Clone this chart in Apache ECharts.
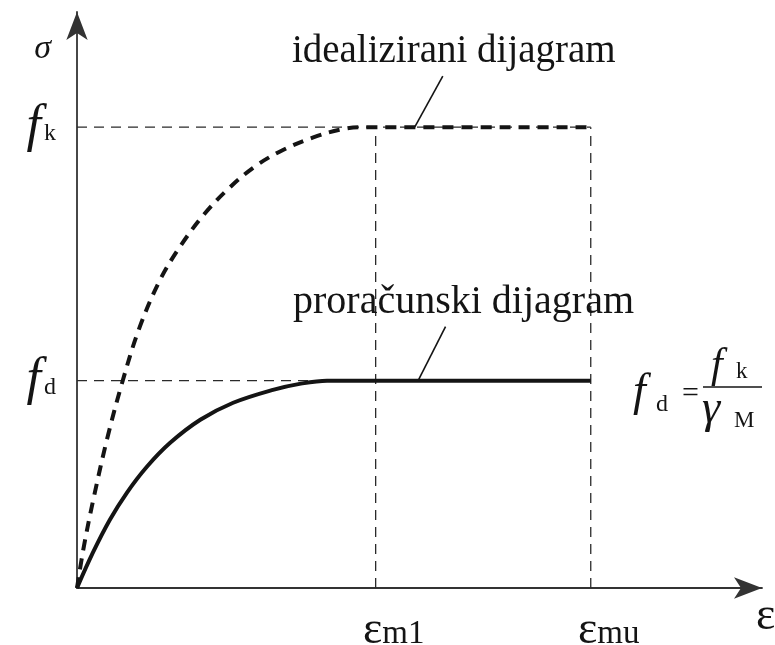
<!DOCTYPE html>
<html>
<head>
<meta charset="utf-8">
<script src="https://cdn.jsdelivr.net/npm/echarts@6/dist/echarts.min.js"></script>
<style>
html,body{margin:0;padding:0;background:#fff;}
#chart{width:775px;height:645px;}
</style>
</head>
<body>
<div id="chart"></div>
<script>
// ---- data (strain in arbitrary units, stress relative to f_k) ----
const strainIdeal  = [0, 0.1, 0.25, 0.45, 0.66, 0.9, 1.2, 1.5, 1.85, 2.2, 2.6, 3.0, 3.45, 3.85, 4.15, 7.5];
const stressIdeal  = [0, 0.09, 0.2, 0.33, 0.446, 0.56, 0.665, 0.74, 0.81, 0.865, 0.915, 0.95, 0.978, 0.995, 1.0, 1.0];
const strainDesign = [0, 0.23, 0.48, 0.73, 1.02, 1.36, 1.80, 2.28, 2.86, 3.25, 3.65, 7.5];
const stressDesign = [0, 0.076, 0.148, 0.207, 0.263, 0.315, 0.365, 0.402, 0.43, 0.443, 0.45, 0.45];
const fk = 1.0;
const fd = 0.45;
const epsM1 = 4.36;
const epsMu = 7.5;
const yTickLabels = {fk: '{f|f}{s|k}', fd: '{f|f}{s|d}'};
const xTickLabels = {m1: '{e|ε}{s|m1}', mu: '{e|ε}{s|mu}'};
const labelIdeal = 'idealizirani dijagram';
const labelDesign = 'proračunski dijagram';
const leaderIdeal  = [[5.34, 1.111], [4.93, 1.0]];
const leaderDesign = [[5.38, 0.567], [4.98, 0.45]];

const zip = (a, b) => a.map((v, i) => [v, b[i]]);
const SERIF = "'Liberation Serif', 'DejaVu Serif', serif";
const INK = '#141414';

const guide = (pts) => ({
  type: 'line', data: pts, symbol: 'none', silent: true, z: 1,
  lineStyle: {color: '#2a2a2a', width: 1.3, type: [10, 7]}
});

const leader = (pts, text, offset, size) => ({
  type: 'line', z: 4, symbol: 'circle', symbolSize: 1,
  itemStyle: {color: 'rgba(0,0,0,0)'},
  lineStyle: {color: INK, width: 1.6},
  data: pts.map((p, i) => i === 0
    ? {value: p, label: {show: true, formatter: text, position: 'top', distance: 4, offset: offset,
        fontFamily: SERIF, fontSize: size, color: INK}}
    : {value: p, label: {show: false}}),
  label: {show: false}
});

const chart = echarts.init(document.getElementById('chart'), null, {renderer: 'canvas'});
chart.setOption({
  backgroundColor: '#ffffff',
  animation: false,
  grid: {left: 77, right: 13, top: 12, bottom: 57, containLabel: false, outerBoundsMode: 'none'},
  xAxis: {
    type: 'value', min: 0, max: 10,
    name: 'ε', nameLocation: 'end', nameGap: -6,
    nameTextStyle: {fontFamily: SERIF, fontSize: 46, color: INK, verticalAlign: 'top', align: 'left', padding: [6, 0, 0, 0]},
    axisLine: {show: true, symbol: ['none', 'arrow'], symbolSize: [16, 28], lineStyle: {color: '#333', width: 1.8}},
    axisTick: {show: false}, splitLine: {show: false},
    axisLabel: {
      customValues: [epsM1, epsMu], margin: 20,
      formatter: v => v === epsM1 ? xTickLabels.m1 : xTickLabels.mu,
      padding: [0, 0, 0, 36],
      rich: {
        e: {fontFamily: SERIF, fontSize: 46, color: INK},
        s: {fontFamily: SERIF, fontSize: 33, color: INK, padding: [6, 0, 0, 0]}
      }
    }
  },
  yAxis: {
    type: 'value', min: 0, max: 1.25,
    name: 'σ', nameLocation: 'end', nameGap: -20,
    nameTextStyle: {fontFamily: SERIF, fontStyle: 'italic', fontSize: 34, color: INK, align: 'right', verticalAlign: 'top', padding: [0, 26, 0, 0]},
    axisLine: {show: true, symbol: ['none', 'arrow'], symbolSize: [16, 28], lineStyle: {color: '#333', width: 1.8}},
    axisTick: {show: false}, splitLine: {show: false},
    axisLabel: {
      customValues: [fd, fk], margin: 21,
      formatter: v => v === fk ? yTickLabels.fk : yTickLabels.fd,
      rich: {
        f: {fontFamily: SERIF, fontStyle: 'italic', fontSize: 52, color: INK},
        s: {fontFamily: SERIF, fontSize: 24, color: INK, padding: [14, 0, 0, 3]}
      }
    }
  },
  series: [
    guide([[0, fk], [epsMu, fk]]),
    guide([[0, fd], [epsM1, fd]]),
    guide([[epsM1, 0], [epsM1, fk]]),
    guide([[epsMu, 0], [epsMu, fk]]),
    {
      name: labelIdeal, type: 'line', data: zip(strainIdeal, stressIdeal),
      symbol: 'none', smooth: 0.35, z: 3,
      lineStyle: {color: INK, width: 4, type: [11, 8]}
    },
    {
      name: labelDesign, type: 'line', data: zip(strainDesign, stressDesign),
      symbol: 'none', smooth: 0.35, z: 3,
      lineStyle: {color: INK, width: 4}
    },
    leader(leaderIdeal, labelIdeal, [11, 0], 39),
    leader(leaderDesign, labelDesign, [18, 0], 40)
  ],
  graphic: [
    {type: 'text', x: 633, y: 393, style: {text: 'f', font: "italic 46px 'Liberation Serif'", fill: INK, align: 'left', verticalAlign: 'middle', textAlign: 'left', textVerticalAlign: 'middle'}},
    {type: 'text', x: 656, y: 405, style: {text: 'd', font: "24px 'Liberation Serif'", fill: INK, align: 'left', verticalAlign: 'middle', textAlign: 'left', textVerticalAlign: 'middle'}},
    {type: 'text', x: 682, y: 394, style: {text: '=', font: "30px 'Liberation Serif'", fill: INK, align: 'left', verticalAlign: 'middle', textAlign: 'left', textVerticalAlign: 'middle'}},
    {type: 'text', x: 711, y: 366, style: {text: 'f', font: "italic 42px 'Liberation Serif'", fill: INK, align: 'left', verticalAlign: 'middle', textAlign: 'left', textVerticalAlign: 'middle'}},
    {type: 'text', x: 736, y: 372, style: {text: 'k', font: "23px 'Liberation Serif'", fill: INK, align: 'left', verticalAlign: 'middle', textAlign: 'left', textVerticalAlign: 'middle'}},
    {type: 'line', shape: {x1: 703, y1: 387, x2: 762, y2: 387}, style: {stroke: INK, lineWidth: 1.5}},
    {type: 'text', x: 702, y: 410, style: {text: 'γ', font: "italic 46px 'Liberation Serif'", fill: INK, align: 'left', verticalAlign: 'middle', textAlign: 'left', textVerticalAlign: 'middle'}},
    {type: 'text', x: 734, y: 421, style: {text: 'M', font: "23px 'Liberation Serif'", fill: INK, align: 'left', verticalAlign: 'middle', textAlign: 'left', textVerticalAlign: 'middle'}}
  ]
});
</script>
</body>
</html>
